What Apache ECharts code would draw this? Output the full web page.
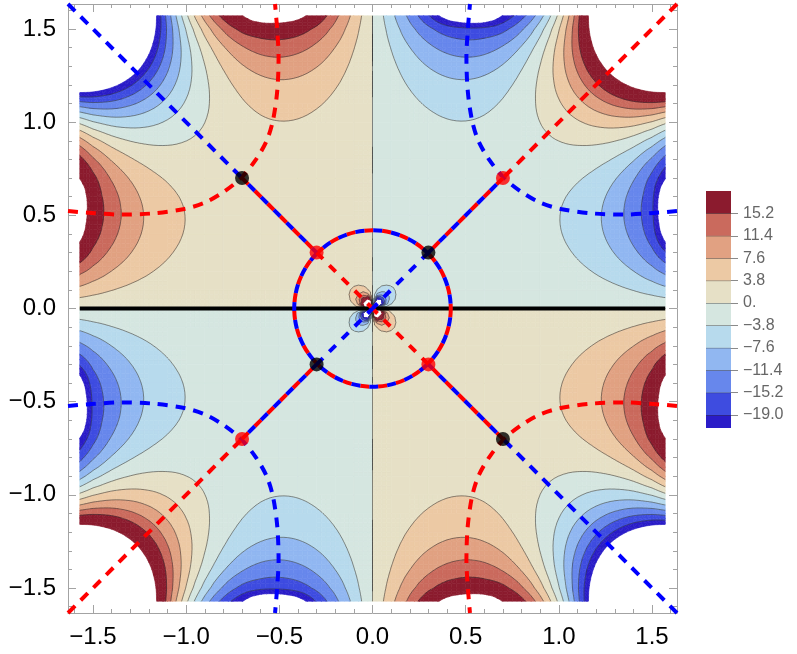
<!DOCTYPE html>
<html><head><meta charset="utf-8">
<script src="https://cdn.jsdelivr.net/npm/echarts@6/dist/echarts.min.js"></script>
<style>html,body{margin:0;padding:0;background:#fff}#c{width:797px;height:654px}</style>
</head><body><div id="c"></div>
<script>
// ---------- data ----------
// |x| and |y| positions of the sampled grid nodes (data domain edge = pi/2)
const gridNodes = [0,0.1,0.2,0.3,0.4,0.5,0.6,0.7,0.8,0.9,1.0,1.1,1.2,1.3,1.4,1.5,1.5708];
// field values in the upper-left quadrant (x<0, y>0): row = |y| node, column = |x| node
const quadrantValues = [
 [0,0,0,0,0,0,0,0,0,0,0,0,0,0,0,0,0],
 [0,4.59,1.57,0.73,0.50,0.45,0.48,0.56,0.70,0.90,1.18,1.59,2.15,2.91,3.93,5.27,6.45],
 [0,1.57,1.37,1.00,0.85,0.84,0.92,1.08,1.33,1.70,2.25,3.02,4.10,5.57,7.55,10.15,12.45],
 [0,0.73,1.00,1.04,1.06,1.13,1.27,1.50,1.84,2.35,3.09,4.15,5.66,7.73,10.53,14.26,18.6],
 [0,0.50,0.85,1.06,1.21,1.37,1.55,1.81,2.19,2.76,3.61,4.85,6.65,9.16,12.61,17.23,25.0],
 [0,0.45,0.84,1.13,1.37,1.56,1.76,2.00,2.35,2.89,3.73,5.02,6.92,9.67,13.50,18.3,28.5],
 [0,0.48,0.92,1.27,1.55,1.76,1.93,2.10,2.33,2.73,3.42,4.56,6.36,9.08,13.01,18.1,28.0],
 [0,0.56,1.08,1.50,1.81,2.00,2.10,2.12,2.15,2.29,2.66,3.46,4.90,7.29,10.95,16.31,22.2],
 [0,0.70,1.33,1.84,2.19,2.35,2.33,2.15,1.88,1.61,1.49,1.71,2.52,4.23,7.22,11.95,16.62],
 [0,0.90,1.70,2.35,2.76,2.89,2.73,2.29,1.61,0.79,-0.02,-0.62,-0.76,-0.10,1.77,5.34,9.20],
 [0,1.18,2.25,3.09,3.61,3.73,3.42,2.66,1.49,-0.02,-1.72,-3.41,-4.83,-5.63,-5.37,-3.53,-0.94],
 [0,1.59,3.02,4.15,4.85,5.02,4.56,3.46,1.71,-0.62,-3.41,-6.46,-9.51,-12.19,-14.06,-14.58,-13.77],
 [0,2.15,4.10,5.66,6.65,6.92,6.36,4.90,2.52,-0.76,-4.83,-9.51,-14.53,-19.54,-24.09,-27.61,-29.12],
 [0,2.91,5.57,7.73,9.16,9.67,9.08,7.29,4.23,-0.10,-5.63,-12.19,-19.54,-27.34,-35.14,-42.35,-46.72],
 [0,3.93,7.55,10.53,12.61,13.50,13.01,10.95,7.22,1.77,-5.37,-14.06,-24.09,-35.14,-46.7,-58.3,-66.2],
 [0,5.27,10.15,14.26,17.23,18.3,18.1,16.31,11.95,5.34,-3.53,-14.58,-27.61,-42.35,-58.3,-75.1,-86.9],
 [0,6.45,12.45,18.6,25.0,28.5,28.0,22.2,16.62,9.20,-0.94,-13.77,-29.12,-46.72,-66.2,-86.9,-102.0]
];
// finer sampling around the singular centre
const centerNodes = [0,0.025,0.05,0.075,0.1,0.125,0.15,0.175,0.2];
const centerValues = [
 [0,0,0,0,0,0,0,0,0],
 [0,72.5,23.2,8.72,4.03,2.17,1.30,0.84,0.58],
 [0,23.2,18.2,10.32,5.83,3.49,2.22,1.50,1.06],
 [0,8.72,10.32,8.09,5.62,3.83,2.65,1.89,1.40],
 [0,4.03,5.83,5.62,4.59,3.53,2.66,2.03,1.57],
 [0,2.17,3.49,3.83,3.53,3.00,2.46,1.99,1.62],
 [0,1.30,2.22,2.65,2.66,2.46,2.15,1.85,1.58],
 [0,0.84,1.50,1.89,2.03,1.99,1.85,1.67,1.49],
 [0,0.58,1.06,1.40,1.57,1.62,1.58,1.49,1.37]
];
const levels = [-22.5,-19,-15.2,-11.4,-7.6,-3.8,0,3.8,7.6,11.4,15.2,22.5];
const colorbarEdges = [-21.2,-19,-15.2,-11.4,-7.6,-3.8,0,3.8,7.6,11.4,15.2,19];
const bandColors = ['#2a1cc8','#3e4ce0','#6787ec','#91b7f1','#b7daed','#d5e6e0','#e6e0c6','#ecc9a4','#e1a182','#ca6a5d','#8b1b2e'];
const lineLevels = [-19,-15.2,-11.4,-7.6,-3.8,0,3.8,7.6,11.4,15.2];
const tickValues = [-1.5,-1,-0.5,0,0.5,1,1.5];
const tickLabels = ['\u22121.5','\u22121.0','\u22120.5','0.0','0.5','1.0','1.5'];
const minorTickValues = [-1.6,-1.5,-1.4,-1.3,-1.2,-1.1,-1.0,-0.9,-0.8,-0.7,-0.6,-0.5,-0.4,-0.3,-0.2,-0.1,0,0.1,0.2,0.3,0.4,0.5,0.6,0.7,0.8,0.9,1.0,1.1,1.2,1.3,1.4,1.5,1.6];
const colorbarTicks = [15.2,11.4,7.6,3.8,0,-3.8,-7.6,-11.4,-15.2,-19];
const colorbarLabels = ['15.2','11.4','7.6','3.8','0.','\u22123.8','\u22127.6','\u221211.4','\u221215.2','\u221219.0'];
// dashed curves
const curveTL = [[-1.634,0.523],[-1.49,0.511],[-1.35,0.504],[-1.17,0.511],[-1.01,0.534],[-0.90,0.568],[-0.80,0.625],[-0.704,0.702],[-0.625,0.80],[-0.568,0.90],[-0.534,1.01],[-0.511,1.17],[-0.504,1.35],[-0.511,1.49],[-0.523,1.634]];
const curveTR = [[1.634,0.523],[1.49,0.511],[1.35,0.504],[1.17,0.511],[1.01,0.534],[0.90,0.568],[0.80,0.625],[0.704,0.702],[0.625,0.80],[0.568,0.90],[0.534,1.01],[0.511,1.17],[0.504,1.35],[0.511,1.49],[0.523,1.634]];
const curveBL = [[-1.634,-0.523],[-1.49,-0.511],[-1.35,-0.504],[-1.17,-0.511],[-1.01,-0.534],[-0.90,-0.568],[-0.80,-0.625],[-0.704,-0.702],[-0.625,-0.80],[-0.568,-0.90],[-0.534,-1.01],[-0.511,-1.17],[-0.504,-1.35],[-0.511,-1.49],[-0.523,-1.634]];
const curveBR = [[1.634,-0.523],[1.49,-0.511],[1.35,-0.504],[1.17,-0.511],[1.01,-0.534],[0.90,-0.568],[0.80,-0.625],[0.704,-0.702],[0.625,-0.80],[0.568,-0.90],[0.534,-1.01],[0.511,-1.17],[0.504,-1.35],[0.511,-1.49],[0.523,-1.634]];
const outerBlue = [[[-1.634,1.634],[-0.70,0.70]],[[1.634,-1.634],[0.70,-0.70]]];
const outerRed = [[[1.634,1.634],[0.70,0.70]],[[-1.634,-1.634],[-0.70,-0.70]]];
const middleSegs = [[[-0.70,0.70],[-0.30,0.30]],[[0.70,0.70],[0.30,0.30]],[[-0.70,-0.70],[-0.30,-0.30]],[[0.70,-0.70],[0.30,-0.30]]];
const innerRed = [[[-0.30,0.30],[0,0]],[[0.30,-0.30],[0,0]]];
const innerBlue = [[[0.30,0.30],[0,0]],[[-0.30,-0.30],[0,0]]];
const centerCircle = [[0,0,0.42]];
const blackPoints = [[-0.70,0.70],[0.30,0.30],[-0.30,-0.30],[0.70,-0.70]];
const redPoints = [[0.70,0.70],[-0.30,0.30],[0.30,-0.30],[-0.70,-0.70]];
const cutLine = [[-1.5708,0],[1.5708,0]];
const zeroLine = [[0,-1.5708],[0,1.5708]];

// ---------- build full fields (picture is antisymmetric in x and in y) ----------
function buildField(nodes, quad){
  const n = nodes.length, coords = [];
  for (let i=n-1;i>=1;i--) coords.push(-nodes[i]);
  for (let i=0;i<n;i++) coords.push(nodes[i]);
  const N = coords.length, vals = [];
  for (let r=0;r<N;r++){
    const jy = Math.abs(r-(n-1)), sy = Math.sign(coords[r]); const row=[];
    for (let c=0;c<N;c++){
      const ix = Math.abs(c-(n-1)), sx = Math.sign(coords[c]);
      row.push(sx===0||sy===0 ? 0 : -sx*sy*quad[jy][ix]);
    }
    vals.push(row);
  }
  return {coords, vals};
}
const fields = [buildField(gridNodes, quadrantValues), buildField(centerNodes, centerValues)];
function cr(p0,p1,p2,p3,t){ const t2=t*t,t3=t2*t; return 0.5*(2*p1+(-p0+p2)*t+(2*p0-5*p1+4*p2-p3)*t2+(-p0+3*p1-3*p2+p3)*t3); }
function gv(V,r,c){
  const N=V.length;
  if (r<0) return 2*gv(V,0,c)-gv(V,1,c);
  if (r>N-1) return 2*gv(V,N-1,c)-gv(V,N-2,c);
  if (c<0) return 2*V[r][0]-V[r][1];
  if (c>N-1) return 2*V[r][N-1]-V[r][N-2];
  return V[r][c];
}
function bicubic(V,r,c,ty,tx){
  const col=[]; for (let k=-1;k<=2;k++) col.push(cr(gv(V,r+k,c-1),gv(V,r+k,c),gv(V,r+k,c+1),gv(V,r+k,c+2),tx));
  return cr(col[0],col[1],col[2],col[3],ty);
}
function bandOf(v){ if (v<levels[0]) return -1; for (let b=0;b<levels.length-1;b++) if (v<=levels[b+1]) return b; return levels.length-1; }
function clipPoly(poly, L, above){
  const out=[];
  for (let k=0;k<poly.length;k++){
    const a=poly[k], b=poly[(k+1)%poly.length];
    const ia = above ? a[2]>=L : a[2]<=L, ib = above ? b[2]>=L : b[2]<=L;
    if (ia) out.push(a);
    if (ia!==ib){ const t=(L-a[2])/(b[2]-a[2]); out.push([a[0]+t*(b[0]-a[0]), a[1]+t*(b[1]-a[1]), L]); }
  }
  return out;
}
const geo = [], cellData = [];
function addCell(g,c,r){
  const F=fields[g], X=F.coords, V=F.vals, S=g===0?4:1;
  const xs=[],ys=[],vv=[];
  for (let a=0;a<=S;a++){ xs.push(X[c]+(X[c+1]-X[c])*a/S); ys.push(X[r]+(X[r+1]-X[r])*a/S); }
  for (let b=0;b<=S;b++){ const row=[]; for (let a=0;a<=S;a++) row.push(S===1?V[r+b][c+a]:bicubic(V,r,c,b/S,a/S)); vv.push(row); }
  const polys=[], segs=[];
  const all=new Set(); vv.forEach(row=>row.forEach(v=>all.add(bandOf(v))));
  if (all.size===1){
    const k=[...all][0];
    if (k>=0 && k<bandColors.length) polys.push([k,[[xs[0],ys[0]],[xs[S],ys[0]],[xs[S],ys[S]],[xs[0],ys[S]]]]);
  } else {
    for (let b=0;b<S;b++) for (let a=0;a<S;a++){
      const p00=[xs[a],ys[b],vv[b][a]], p10=[xs[a+1],ys[b],vv[b][a+1]], p11=[xs[a+1],ys[b+1],vv[b+1][a+1]], p01=[xs[a],ys[b+1],vv[b+1][a]];
      const tris=[[p00,p10,p11],[p00,p11,p01]];
      const bs=new Set([p00,p10,p11,p01].map(p=>bandOf(p[2])));
      if (bs.size===1){ const k=[...bs][0]; if (k>=0&&k<bandColors.length) polys.push([k,[p00,p10,p11,p01]]); }
      else tris.forEach(tri=>{
        const vs=tri.map(p=>p[2]), vmin=Math.min(...vs), vmax=Math.max(...vs);
        for (let k=0;k<bandColors.length;k++){
          const lo=levels[k], hi=levels[k+1];
          if (vmax<lo || vmin>hi) continue;
          const poly=clipPoly(clipPoly(tri,lo,true),hi,false);
          if (poly.length>=3) polys.push([k,poly]);
        }
      });
      tris.forEach(tri=>{
        lineLevels.forEach(L=>{
          const d=tri.map(p=>{const v=p[2]-L; return v===0?1e-9:v;}); const pts=[];
          for (let k=0;k<3;k++){ const A=tri[k], B=tri[(k+1)%3], da=d[k], db=d[(k+1)%3];
            if (da*db<0){ const t=da/(da-db); pts.push([A[0]+t*(B[0]-A[0]), A[1]+t*(B[1]-A[1])]); } }
          if (pts.length===2) segs.push(pts);
        });
      });
    }
  }
  geo.push({polys,segs});
  cellData.push([(X[c]+X[c+1])/2,(X[r]+X[r+1])/2,geo.length-1]);
}
fields.forEach((F,g)=>{
  const X=F.coords, N=X.length;
  for (let r=0;r<N-1;r++) for (let c=0;c<N-1;c++){
    const x0=X[c],x1=X[c+1],y0=X[r],y1=X[r+1];
    if (g===0 && x0>=-0.2001 && x1<=0.2001 && y0>=-0.2001 && y1<=0.2001) continue;
    addCell(g,c,r);
  }
});
function fillItem(params, api){
  const G=geo[api.value(2)];
  return {type:'group', children:G.polys.map(([k,poly])=>({type:'polygon', shape:{points:poly.map(p=>api.coord([p[0],p[1]]))},
    style:{fill:bandColors[k], stroke:bandColors[k], lineWidth:0.6}}))};
}
function lineItem(params, api){
  const G=geo[api.value(2)];
  return {type:'group', children:G.segs.map(s=>{ const a=api.coord(s[0]), b=api.coord(s[1]);
    return {type:'line', shape:{x1:a[0],y1:a[1],x2:b[0],y2:b[1]}, style:{stroke:'rgba(45,45,45,0.6)', lineWidth:0.9}}; })};
}

// ---------- axes ----------
const FONT = 'Liberation Sans, Arial, sans-serif';
const AMIN=-1.634, AMAX=1.634, FRAME='#a3a3a3';
const fmtMain = v => { const k=tickValues.findIndex(t=>Math.abs(t-v)<1e-6); return k<0?'':tickLabels[k]; };
function mainAxis(pos, labels){
  return {gridIndex:0, type:'value', min:AMIN, max:AMAX, position:pos,
    axisLine:{show:true,onZero:false,lineStyle:{color:FRAME,width:1}},
    axisTick:{show:true,inside:true,length:8,customValues:tickValues,lineStyle:{color:FRAME,width:1}},
    axisLabel:{show:labels,customValues:tickValues,formatter:fmtMain,fontSize:24,color:'#000',margin:12,fontFamily:FONT},
    splitLine:{show:false}};
}
function minorAxis(pos){
  return {gridIndex:0, type:'value', min:AMIN, max:AMAX, position:pos,
    axisLine:{show:false,onZero:false}, axisTick:{show:true,inside:true,length:4,customValues:minorTickValues,lineStyle:{color:FRAME,width:1}},
    axisLabel:{show:false}, splitLine:{show:false}};
}
const segSeries = (data, color, dash, offset, z, width) => ({type:'line', data, xAxisIndex:0, yAxisIndex:0, showSymbol:false, clip:true, z,
  lineStyle:{color, width:width||4, type:dash, dashOffset:offset, cap:'butt'}, silent:true, animation:false});

const series = [
  {type:'custom', xAxisIndex:0, yAxisIndex:0, data:cellData, renderItem:fillItem, clip:true, z:1, silent:true, animation:false},
  {type:'custom', xAxisIndex:0, yAxisIndex:0, data:cellData, renderItem:lineItem, clip:true, z:2, silent:true, animation:false},
  {...segSeries(zeroLine,'rgba(45,45,45,0.6)','solid',0,2,0.9)},
  segSeries(cutLine,'#000','solid',0,3),
  {...segSeries(curveTL,'#ff0000',[10,8],0,4), smooth:0.3},
  {...segSeries(curveBR,'#ff0000',[10,8],0,4), smooth:0.3},
  {...segSeries(curveTR,'#0000ff',[10,8],0,4), smooth:0.3},
  {...segSeries(curveBL,'#0000ff',[10,8],0,4), smooth:0.3},
];
outerBlue.forEach(s=>series.push(segSeries(s,'#0000ff',[10,8],0,4)));
outerRed.forEach(s=>series.push(segSeries(s,'#ff0000',[10,8],0,4)));
middleSegs.forEach(s=>{ series.push(segSeries(s,'#ff0000',[9,9],0,4)); series.push(segSeries(s,'#0000ff',[9,9],9,5)); });
innerRed.forEach(s=>series.push(segSeries(s,'#ff0000',[9,9],0,4)));
innerBlue.forEach(s=>series.push(segSeries(s,'#0000ff',[9,9],0,4)));
[['#ff0000',0],['#0000ff',9]].forEach(([col,off])=>{
  series.push({type:'custom', xAxisIndex:0, yAxisIndex:0, data:centerCircle, z:4, silent:true, animation:false,
    renderItem:(p,api)=>{ const c=api.coord([api.value(0),api.value(1)]), e=api.coord([api.value(0)+api.value(2),api.value(1)]);
      return {type:'circle', shape:{cx:c[0],cy:c[1],r:e[0]-c[0]}, style:{fill:'none',stroke:col,lineWidth:4,lineDash:[9,9],lineDashOffset:off}}; }});
});
series.push({type:'scatter', xAxisIndex:0, yAxisIndex:0, data:blackPoints, symbol:'circle', symbolSize:14, itemStyle:{color:'#000'}, z:10, silent:true, animation:false});
series.push({type:'scatter', xAxisIndex:0, yAxisIndex:0, data:redPoints, symbol:'circle', symbolSize:14, itemStyle:{color:'#ff0000'}, z:10, silent:true, animation:false});
// colorbar
const cbData = bandColors.map((col,i)=>[0.5,(colorbarEdges[i]+colorbarEdges[i+1])/2,colorbarEdges[i],colorbarEdges[i+1],i]);
series.push({type:'custom', xAxisIndex:4, yAxisIndex:4, data:cbData, silent:true, animation:false, z:2,
  renderItem:(p,api)=>{ const lo=api.value(2), hi=api.value(3), i=api.value(4);
    const a=api.coord([0,hi]), b=api.coord([1,lo]); const ch=[{type:'rect', shape:{x:a[0],y:a[1],width:b[0]-a[0],height:b[1]-a[1]}, style:{fill:bandColors[i]}}];
    if (i<bandColors.length-1) ch.push({type:'line', shape:{x1:a[0],y1:a[1],x2:b[0],y2:a[1]}, style:{stroke:'rgba(40,40,40,0.75)',lineWidth:1}});
    return {type:'group', children:ch}; }});

const chart = echarts.init(document.getElementById('c'), null, {renderer:'canvas'});
chart.setOption({
  animation:false, backgroundColor:'#fff',
  grid:[{left:68, top:4, width:609, height:609}, {left:706, top:191, width:25, height:237}],
  xAxis:[mainAxis('bottom',true), mainAxis('top',false), minorAxis('bottom'), minorAxis('top'),
    {gridIndex:1, type:'value', min:0, max:1, show:false}],
  yAxis:[mainAxis('left',true), mainAxis('right',false), minorAxis('left'), minorAxis('right'),
    {gridIndex:1, type:'value', min:-21.2, max:19, position:'right',
     axisLine:{show:false,onZero:false}, splitLine:{show:false},
     axisTick:{show:true,inside:false,length:7,customValues:colorbarTicks,lineStyle:{color:'#8a8a8a'}},
     axisLabel:{show:true,customValues:colorbarTicks,margin:12,fontSize:16,color:'#666',fontFamily:FONT,
       formatter:v=>{const k=colorbarTicks.findIndex(t=>Math.abs(t-v)<1e-6); return k<0?'':colorbarLabels[k];}}}],
  series
});
</script></body></html>
